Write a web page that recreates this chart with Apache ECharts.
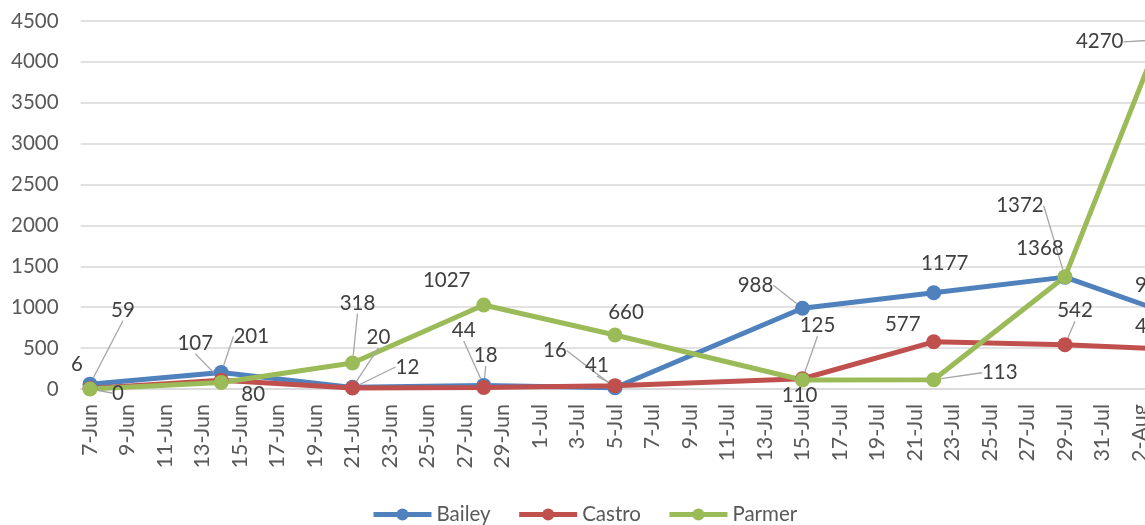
<!DOCTYPE html>
<html>
<head>
<meta charset="utf-8">
<script src="https://cdn.jsdelivr.net/npm/echarts@6/dist/echarts.min.js"></script>
<style>
html,body{margin:0;padding:0;background:#fff;overflow:hidden;width:1145px;height:525px;}
#chart{width:1172px;height:525px;}
</style>
</head>
<body>
<div id="chart"></div>
<script>
// ---- data ----
const pointDates = ['7-Jun','14-Jun','21-Jun','28-Jun','5-Jul','15-Jul','22-Jul','29-Jul','3-Aug'];
const bailey = [59, 201, 20, 44, 16, 988, 1177, 1368, 966];
const castro = [6, 107, 12, 18, 41, 125, 577, 542, 493];
const parmer = [0, 80, 318, 1027, 660, 110, 113, 1372, 4270];
const yTicks = [0, 500, 1000, 1500, 2000, 2500, 3000, 3500, 4000, 4500];

// daily date axis (7-Jun .. 3-Aug)
const months = ['Jan','Feb','Mar','Apr','May','Jun','Jul','Aug','Sep','Oct','Nov','Dec'];
const axisDays = [];
for (let d = new Date(2020, 5, 7); d <= new Date(2020, 7, 3); d.setDate(d.getDate() + 1)) {
  axisDays.push(d.getDate() + '-' + months[d.getMonth()]);
}

// label placement (dx, dy from the point, leader line on/off)
const placement = {
  Bailey: [[33,-74,1],[30,-36,1],[26,-50,1],[-20,-55,1],[-60,-37,1],[-47,-23,1],[11,-29,0],[-25,-29,0],[-6,-25,0]],
  Castro: [[-13,-24,0],[-26,-37,1],[55,-21,1],[2,-32,1],[-18,-20,1],[15,-53,1],[-31,-17,0],[10,-34,1],[-6,-22,0]],
  Parmer: [[28,4,1],[32,12,0],[5,-60,1],[-37,-25,0],[11,-23,0],[-3,15,0],[66,-7,1],[-45,-71,1],[-59,2,1]]
};

const FONT = 'Lato';
const colors = {Bailey:'#4f81bd', Castro:'#c0504d', Parmer:'#9bbb59'};

function buildData(name, values) {
  const out = axisDays.map(() => null);
  values.forEach((v, i) => {
    const idx = axisDays.indexOf(pointDates[i]);
    out[idx] = { value: v, labelLine: { show: !!placement[name][i][2] } };
  });
  return out;
}
function indexInPoints(dataIndex) {
  return pointDates.indexOf(axisDays[dataIndex]);
}

function makeSeries(name, values) {
  return {
    name: name,
    type: 'line',
    data: buildData(name, values),
    connectNulls: true,
    showSymbol: true,
    showAllSymbol: true,
    symbol: 'circle',
    symbolSize: 15,
    lineStyle: { width: 5, color: colors[name] },
    itemStyle: { color: colors[name] },
    label: {
      show: true,
      position: 'inside',
      fontFamily: FONT,
      fontSize: 20.5,
      color: '#404040'
    },
    labelLine: { show: true, lineStyle: { color: '#a6a6a6', width: 1.3 } },
    labelLayout: function (params) {
      const p = placement[name][indexInPoints(params.dataIndex)];
      return p ? { dx: p[0], dy: p[1] } : {};
    },
    emphasis: { disabled: true },
    animation: false
  };
}

const chart = echarts.init(document.getElementById('chart'));
chart.setOption({
  animation: false,
  textStyle: { fontFamily: FONT },
  grid: { left: 80.6, width: 1087.5, top: 21, bottom: 136, containLabel: false },
  xAxis: {
    type: 'category',
    data: axisDays,
    boundaryGap: true,
    axisLine: { show: true, lineStyle: { color: '#d9d9d9', width: 1.5 } },
    axisTick: { show: false },
    axisLabel: {
      interval: 1,
      rotate: 90,
      fontFamily: FONT,
      fontSize: 21.5,
      color: '#595959',
      margin: 15
    },
    splitLine: { show: false }
  },
  yAxis: {
    type: 'value',
    min: yTicks[0],
    max: yTicks[yTicks.length - 1],
    interval: 500,
    axisLine: { show: false },
    axisTick: { show: false },
    axisLabel: { fontFamily: FONT, fontSize: 20.5, color: '#595959', margin: 22, formatter: v => String(v) },
    splitLine: { lineStyle: { color: '#d9d9d9', width: 1.5 } }
  },
  legend: {
    data: ['Bailey', 'Castro', 'Parmer'],
    left: 366,
    top: 499,
    itemWidth: 58,
    itemHeight: 15,
    itemGap: 26,
    lineStyle: { width: 5 },
    textStyle: { fontFamily: FONT, fontSize: 20.5, color: '#595959' }
  },
  series: [
    makeSeries('Bailey', bailey),
    makeSeries('Castro', castro),
    makeSeries('Parmer', parmer)
  ]
});
</script>
</body>
</html>
